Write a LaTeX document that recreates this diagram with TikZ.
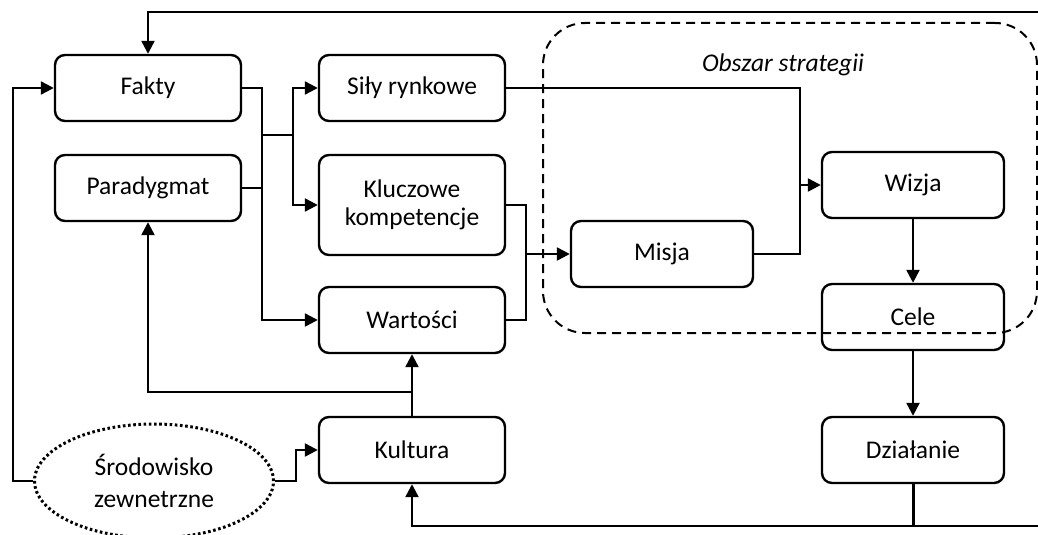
\documentclass[tikz,border=0pt]{standalone}
\usepackage{fontspec}
\setmainfont{Carlito}
\usetikzlibrary{arrows.meta,shapes.geometric}
\begin{document}
\begin{tikzpicture}[x=1pt,y=-1pt,
  box/.style={draw,line width=2.4pt,rounded corners=10pt,minimum width=186pt,minimum height=66pt,align=center,inner sep=2pt,font=\fontsize{25.5}{30}\selectfont},
  ln/.style={line width=2.4pt},
  arr/.style={line width=2.4pt,-{Triangle[length=13pt,width=13pt]}}]
\useasboundingbox (0,0) rectangle (1038,535);
% strategy area
\node (area) [draw,line width=2pt,dash pattern=on 9pt off 6pt,rounded corners=42pt,minimum width=494pt,minimum height=310pt] at (790,178) {};
\node (areal) at (783,65) {\fontsize{25.5}{30}\selectfont\itshape Obszar strategii};
% boxes
\node (fakty) [box] at (148,88) {Fakty};
\node (parad) [box] at (148,188) {Paradygmat};
\node (sily) [box] at (412,88) {Siły rynkowe};
\node (kluc) [box,minimum height=100pt] at (412,205) {Kluczowe\\[-2pt]kompetencje};
\node (wart) [box] at (412,320) {Wartości};
\node (kult) [box] at (412,450) {Kultura};
\node (misja) [box,minimum width=182pt] at (662,254) {Misja};
\node (wizja) [box,minimum width=182pt] at (913,185) {Wizja};
\node (cele) [box,minimum width=182pt] at (913,317) {Cele};
\node (dzial) [box,minimum width=182pt] at (913,450) {Działanie};
\node (srod) [draw,ellipse,line width=3pt,dash pattern=on 2.6pt off 2.6pt,minimum width=239pt,minimum height=114pt,align=center,font=\fontsize{25.5}{30}\selectfont] at (154,481) {Środowisko\\[2pt]zewnetrzne};
% coordinates
\coordinate (tr) at (1038,12);
\coordinate (br) at (1038,526);
\coordinate (j1) at (262,135);
\coordinate (j2) at (293,135);
\coordinate (j3) at (800,185);
\coordinate (j4) at (526,254);
\coordinate (j5) at (413,392);
% connectors
\draw[arr] (tr) -| (fakty.north);
\draw[arr] (fakty.east) -- (262,88) |- (wart.west);
\draw[ln] (parad.east) -- (262,188);
\draw[ln] (j1) -- (j2);
\draw[arr] (j2) |- (sily.west);
\draw[arr] (j2) |- (kluc.west);
\draw[ln] (sily.east) -| (800,254) -- (misja.east);
\draw[arr] (j3) -- (wizja.west);
\draw[ln] (kluc.east) -| (526,320) -- (wart.east);
\draw[arr] (j4) -- (misja.west);
\draw[arr] (wizja.south) -- (cele.north);
\draw[arr] (cele.south) -- (dzial.north);
\draw[line width=3pt] (dzial.south) -- (913,526);
\draw[arr] (br) -| (kult.south);
\draw[arr] (kult.north) -- (wart.south);
\draw[arr] (j5) -| (parad.south);
\draw[arr] (srod.west) -| (13,88) -- (fakty.west);
\draw[arr] (srod.east) -| (296,450) -- (kult.west);
\end{tikzpicture}
\end{document}
